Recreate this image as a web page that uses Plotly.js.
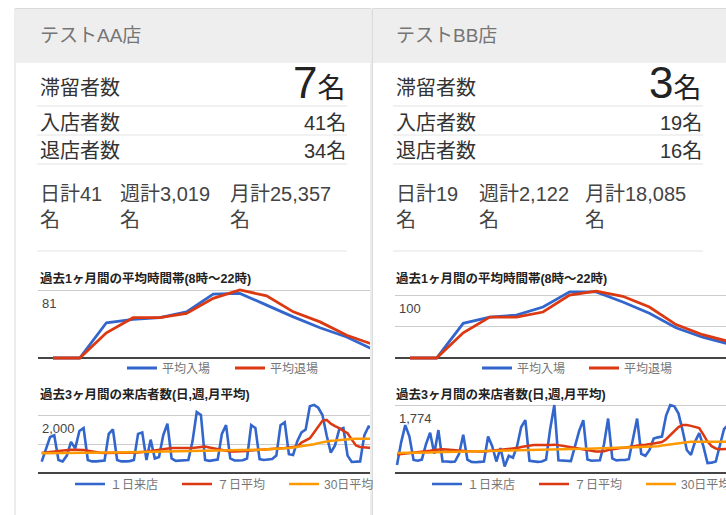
<!DOCTYPE html>
<html><head><meta charset="utf-8">
<script src="https://cdn.plot.ly/plotly-3.0.1.min.js"></script>
<style>html,body{margin:0;padding:0;background:#fff;overflow:hidden;} #chart{width:800px;height:515px;}</style>
</head><body><div id="chart"></div>
<script>
// ---------- data ----------
const storeNames = ['テストAA店', 'テストBB店'];
const stayCounts = [7, 3];
const entryCounts = [41, 19];
const exitCounts = [34, 16];
const dailyTotals = ['41', '19'];
const weeklyTotals = ['3,019', '2,122'];
const monthlyTotals = ['25,357', '18,085'];

const hourTitle = '過去1ヶ月間の平均時間帯(8時〜22時)';
const dayTitle = '過去3ヶ月間の来店者数(日,週,月平均)';
const hourSeriesNames = ['平均入場', '平均退場'];
const daySeriesNames = ['１日来店', '７日平均', '30日平均'];

const hours = [8, 9, 10, 11, 12, 13, 14, 15, 16, 17, 18, 19, 20, 21, 22];
const aaAvgIn  = [0, 0, 42, 46, 48, 55, 76, 77, 63, 49, 36, 25, 10, 4, 1];
const aaAvgOut = [0, 0, 30, 48, 48, 53, 71, 81, 74, 55, 43, 27, 16, 7, 2];
const bbAvgIn  = [0, 0, 55, 65, 68, 81, 105, 105, 89, 71, 48, 33, 22, 12, 5];
const bbAvgOut = [0, 0, 40, 65, 65, 73, 100, 106, 98, 81, 53, 37, 26, 15, 6];

const aaHourTicks = [81];
const aaHourTickText = ['81'];
const bbHourTicks = [50, 100];
const bbHourTickText = ['', '100'];
const aaDayTicks = [1000, 2000];
const aaDayTickText = ['', '2,000'];
const bbDayTicks = [1774];
const bbDayTickText = ['1,774'];

const days = [0,1,2,3,4,5,6,7,8,9,10,11,12,13,14,15,16,17,18,19,20,21,22,23,24,25,26,27,28,29,
  30,31,32,33,34,35,36,37,38,39,40,41,42,43,44,45,46,47,48,49,50,51,52,53,54,55,56,57,58,59,
  60,61,62,63,64,65,66,67,68,69,70,71,72,73,74,75,76,77,78,79,80,81,82,83,84,85,86,87,88,89];

const aaDaily = [390, 820, 1240, 1300, 450, 400, 600, 1070, 850, 1450,
  1550, 450, 400, 400, 420, 430, 1350, 1500, 450, 400,
  400, 410, 450, 1350, 1400, 450, 1150, 500, 550, 1300,
  1700, 500, 420, 430, 450, 450, 1100, 2100, 2000, 450,
  420, 430, 460, 1350, 1650, 500, 430, 430, 440, 500,
  1650, 1550, 480, 450, 470, 480, 600, 1650, 1750, 650,
  620, 1100, 1400, 1500, 2300, 2350, 2250, 2000, 1300, 700,
  950, 1500, 1550, 600, 380, 380, 400, 1300, 1600, 1550,
  450, 420, 430, 440, 1350, 1700, 500, 430, 440, 460];
const aaWeekAvg = [690, 700, 720, 740, 760, 780, 790, 800, 800, 800,
  790, 770, 740, 720, 700, 690, 690, 690, 690, 690,
  690, 690, 700, 710, 720, 740, 760, 780, 800, 830,
  850, 860, 860, 860, 850, 850, 860, 880, 900, 910,
  880, 850, 820, 790, 760, 740, 740, 740, 750, 760,
  780, 790, 800, 800, 800, 810, 820, 840, 860, 880,
  890, 910, 1050, 1140, 1200, 1400, 1600, 1800, 1830, 1700,
  1620, 1550, 1450, 1370, 1150, 950, 900, 880, 870, 880,
  890, 900, 900, 900, 900, 910, 910, 910, 900, 900];
const aaMonthAvg = [680, 680, 682, 684, 686, 688, 690, 690, 692, 694,
  696, 698, 700, 700, 702, 704, 706, 708, 710, 712,
  714, 716, 718, 720, 722, 724, 726, 728, 730, 735,
  740, 742, 744, 746, 748, 750, 752, 755, 758, 760,
  762, 765, 768, 770, 772, 775, 778, 780, 785, 790,
  795, 800, 805, 810, 815, 820, 830, 840, 850, 865,
  880, 900, 920, 940, 960, 990, 1030, 1060, 1090, 1110,
  1120, 1140, 1160, 1170, 1175, 1180, 1180, 1180, 1180, 1180,
  1185, 1185, 1190, 1190, 1190, 1195, 1195, 1200, 1200, 1200];

const bbDaily = [210, 800, 1250, 950, 340, 320, 350, 750, 1050, 500,
  1120, 300, 300, 290, 300, 500, 1000, 350, 290, 280,
  290, 300, 950, 700, 300, 650, 170, 450, 400, 700,
  1200, 1380, 320, 300, 290, 300, 350, 1150, 1774, 330,
  320, 310, 310, 700, 1100, 1380, 350, 320, 320, 330,
  750, 1420, 380, 330, 340, 340, 360, 900, 1420, 500,
  450, 600, 900, 930, 950, 1500, 1774, 1740, 1550, 1100,
  600, 470, 820, 1040, 700, 260, 270, 300, 700, 1150,
  1250, 350, 300, 310, 320, 900, 1300, 380, 310, 320];
const bbWeekAvg = [480, 490, 500, 520, 530, 540, 550, 560, 580, 600,
  610, 620, 610, 600, 590, 580, 580, 570, 570, 560,
  560, 560, 570, 580, 590, 600, 610, 620, 630, 650,
  680, 700, 720, 730, 730, 730, 720, 730, 740, 730,
  710, 690, 670, 650, 640, 620, 600, 580, 560, 560,
  570, 600, 620, 640, 650, 660, 680, 700, 720, 730,
  740, 750, 770, 790, 810, 880, 990, 1100, 1200, 1250,
  1250, 1230, 1200, 1170, 1000, 820, 700, 640, 620, 620,
  630, 640, 650, 650, 650, 660, 660, 670, 670, 670];
const bbMonthAvg = [520, 520, 522, 525, 527, 530, 532, 535, 537, 540,
  542, 545, 547, 550, 552, 555, 557, 560, 562, 565,
  567, 570, 572, 575, 577, 580, 582, 585, 587, 590,
  590, 592, 594, 596, 598, 600, 600, 600, 600, 600,
  605, 610, 615, 620, 625, 630, 635, 640, 645, 650,
  652, 655, 657, 660, 662, 665, 667, 670, 672, 675,
  678, 680, 690, 700, 715, 730, 750, 770, 785, 800,
  810, 815, 815, 815, 815, 810, 810, 810, 810, 810,
  810, 812, 812, 815, 815, 815, 818, 818, 820, 820];

// ---------- layout helpers ----------
const W = 800, H = 515;
const px = x => x / W;
const py = y => 1 - y / H;
const dom = (top, bottom) => [py(bottom), py(top)];
const FONT = '"Liberation Sans", Arial, "Noto Sans CJK JP", sans-serif';
const BLUE = '#3366cc', RED = '#dc3912', ORANGE = '#ff9900';

const shapes = [];
const annotations = [];

function cardChrome(left, right, L, R, i) {
  shapes.push({type:'rect', xref:'paper', yref:'paper', x0:px(left), x1:px(right), y0:py(540), y1:py(8.5),
    line:{color:'#dadada', width:1}, fillcolor:'#ffffff', layer:'below'});
  shapes.push({type:'rect', xref:'paper', yref:'paper', x0:px(left+0.5), x1:px(right-0.5), y0:py(63), y1:py(9),
    line:{width:0}, fillcolor:'#eeeeee', layer:'below'});
  [106, 135, 164, 251].forEach(y => shapes.push({type:'line', xref:'paper', yref:'paper',
    x0:px(L - 1), x1:px(R), y0:py(y), y1:py(y), line:{color:'#e3e3e3', width:1}, layer:'below'}));

  const a = (text, x, y, xanchor, size, color, extra) => annotations.push(Object.assign({
    text, x:px(x), y:py(y), xref:'paper', yref:'paper', xanchor, yanchor:'middle', showarrow:false,
    align:'left', font:{family:FONT, size, color}}, extra || {}));
  a(storeNames[i], L, 35.5, 'left', 19, '#757575');
  a('滞留者数', L, 87.5, 'left', 20, '#333333');
  a('<span style="font-size:44px">' + stayCounts[i] + '</span>名', R + 1, 83, 'right', 28, '#222222');
  a('入店者数', L, 122.5, 'left', 20, '#333333');
  a(entryCounts[i] + '名', R + 1, 122.5, 'right', 20, '#333333');
  a('退店者数', L, 150.5, 'left', 20, '#333333');
  a(exitCounts[i] + '名', R + 1, 150.5, 'right', 20, '#333333');
  const colX = i === 0 ? [L, L + 80, L + 190] : [L, L + 83, L + 189];
  a('日計' + dailyTotals[i] + '<br>名', colX[0], 207, 'left', 20, '#444444');
  a('週計' + weeklyTotals[i] + '<br>名', colX[1], 207, 'left', 20, '#444444');
  a('月計' + monthlyTotals[i] + '<br>名', colX[2], 207, 'left', 20, '#444444');
  a('<b>' + hourTitle + '</b>', L, 278, 'left', 12.5, '#222222');
  a('<b>' + dayTitle + '</b>', L, 394, 'left', 12.5, '#222222');
}
cardChrome(15, 371, 38, 347, 0);
cardChrome(372.5, 900, 394, 703, 1);

function yAx(domain, range, tickvals, ticktext, anchor) {
  return {domain, range, tickvals, ticktext, anchor, showgrid:true, gridcolor:'#cccccc', gridwidth:1,
    zeroline:true, zerolinecolor:'#444444', zerolinewidth:2, showline:false, ticks:'',
    ticklabelposition:'inside bottom', ticklabelshift:4, ticklabelstandoff:1,
    tickfont:{family:FONT, size:13, color:'#444444'}, fixedrange:true};
}
function xAx(domain, range, anchor) {
  return {domain, range, anchor, showgrid:false, zeroline:false, showline:false, ticks:'', showticklabels:false, fixedrange:true};
}

const legendBase = (x, y, ew) => ({orientation:'h', x:px(x), y:py(y), xanchor:'left', yanchor:'middle',
  font:{family:FONT, size:12, color:'#757575'}, bgcolor:'rgba(0,0,0,0)', borderwidth:0,
  entrywidth:ew, entrywidthmode:'pixels', itemclick:false, itemdoubleclick:false});

const lineTr = (x, y, name, color, xa, ya, legend, width) => ({
  type:'scatter', mode:'lines', x, y, name, xaxis:xa, yaxis:ya, legend,
  line:{color, width}, hoverinfo:'skip'});

const data = [
  lineTr(hours, aaAvgIn, hourSeriesNames[0], BLUE, 'x', 'y', 'legend', 2.8),
  lineTr(hours, aaAvgOut, hourSeriesNames[1], RED, 'x', 'y', 'legend', 2.8),
  lineTr(hours, bbAvgIn, hourSeriesNames[0], BLUE, 'x2', 'y2', 'legend2', 2.8),
  lineTr(hours, bbAvgOut, hourSeriesNames[1], RED, 'x2', 'y2', 'legend2', 2.8),
  lineTr(days, aaDaily, daySeriesNames[0], BLUE, 'x3', 'y3', 'legend3', 2.6),
  lineTr(days, aaWeekAvg, daySeriesNames[1], RED, 'x3', 'y3', 'legend3', 2.5),
  lineTr(days, aaMonthAvg, daySeriesNames[2], ORANGE, 'x3', 'y3', 'legend3', 2.5),
  lineTr(days, bbDaily, daySeriesNames[0], BLUE, 'x4', 'y4', 'legend4', 2.6),
  lineTr(days, bbWeekAvg, daySeriesNames[1], RED, 'x4', 'y4', 'legend4', 2.5),
  lineTr(days, bbMonthAvg, daySeriesNames[2], ORANGE, 'x4', 'y4', 'legend4', 2.5)
];

const layout = {
  width:W, height:H, autosize:false, margin:{l:0, r:0, t:0, b:0, pad:0},
  paper_bgcolor:'#ffffff', plot_bgcolor:'rgba(0,0,0,0)', font:{family:FONT},
  showlegend:true, hovermode:false,
  xaxis: xAx([px(38), px(370)], [7.438, 7.438 + 332 / 26.7], 'y'),
  yaxis: yAx(dom(358 - 83.5 * 68 / 81, 358 + 2.5 * 68 / 81), [-2.5, 83.5], aaHourTicks, aaHourTickText, 'x'),
  xaxis2: xAx([px(395), px(800)], [7.436, 7.436 + 405 / 26.6], 'y2'),
  yaxis2: yAx(dom(358 - 110 * 0.63, 358 + 3 * 0.63), [-3, 110], bbHourTicks, bbHourTickText, 'x2'),
  xaxis3: xAx([px(38), px(370)], [-0.883, -0.883 + 332 / 4.19], 'y3'),
  yaxis3: yAx(dom(473 - 2450 * 0.029, 473 + 60 * 0.029), [-60, 2450], aaDayTicks, aaDayTickText, 'x3'),
  xaxis4: xAx([px(395), px(800)], [-0.483, -0.483 + 405 / 4.14], 'y4'),
  yaxis4: yAx(dom(473 - 1830 * 68 / 1774, 473 + 45 * 68 / 1774), [-45, 1830], bbDayTicks, bbDayTickText, 'x4'),
  legend: legendBase(122, 368, 63),
  legend2: legendBase(477, 368, 62),
  legend3: legendBase(70, 484, 62),
  legend4: legendBase(427, 484, 62),
  shapes, annotations
};

Plotly.newPlot('chart', data, layout, {staticPlot:true, displayModeBar:false});
</script>
</body></html>
